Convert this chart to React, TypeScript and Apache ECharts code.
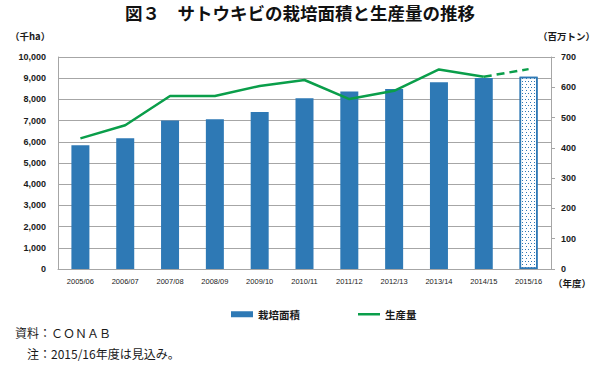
import React, { useEffect, useRef } from "react";
import * as echarts from "echarts";

const categories = ["2005/06", "2006/07", "2007/08", "2008/09", "2009/10", "2010/11", "2011/12", "2012/13", "2013/14", "2014/15", "2015/16"];
const areaValues = [5840, 6163, 7010, 7058, 7410, 8056, 8368, 8485, 8811, 9005, 9073];
const productionActual = [431.4, 474.8, 571.4, 571.4, 604.5, 624.0, 561.1, 588.5, 658.8, 634.8, null];
const productionForecast = [null, null, null, null, null, null, null, null, null, 634.8, 660.0];
const leftTicks = { min: 0, max: 10000, interval: 1000 };
const rightTicks = { min: 0, max: 700, interval: 100 };

const BLUE = "#2e79b5";
const GREEN = "#0a9e4a";
const GRAY = "#a6a6a6";
const TXT = "#1a1a1a";
const NUMFONT = "'Liberation Sans', Arial, sans-serif";
const JPFONT = "'Noto Sans CJK JP', sans-serif";

export default function App() {
  const ref = useRef<HTMLDivElement>(null);
  useEffect(() => {
    if (!ref.current) return;
    const chart = echarts.init(ref.current, null, { renderer: "svg" });
    const barData = areaValues.map((v, i) =>
      i === areaValues.length - 1
        ? {
            value: v,
            itemStyle: {
              color: "#ffffff",
              borderColor: BLUE,
              borderWidth: 1.5,
              decal: {
                symbol: "rect",
                symbolSize: 1,
                color: BLUE,
                backgroundColor: "#ffffff",
                dashArrayX: [[1, 2], [0, 1.5, 1, 0.5]],
                dashArrayY: [1, 2],
                rotation: 0,
              },
            },
          }
        : v
    );
    chart.setOption({
      animation: false,
      grid: { left: 58, right: 49, top: 57, bottom: 107, containLabel: false },
      legend: {
        data: [
          { name: "栽培面積", icon: "rect" },
          { name: "生産量", icon: "path://M0,0L22,0L22,2.5L0,2.5Z" },
        ],
        left: 226,
        top: 304,
        itemWidth: 22,
        itemHeight: 6,
        itemGap: 58,
        symbolKeepAspect: true,
        textStyle: { fontFamily: JPFONT, fontSize: 10.5, fontWeight: "bold", color: TXT },
      },
      xAxis: {
        type: "category",
        data: categories,
        axisLine: { lineStyle: { color: GRAY, width: 1 } },
        axisTick: { show: false },
        axisLabel: { interval: 0, fontSize: 7.5, fontFamily: NUMFONT, color: TXT, margin: 8 },
      },
      yAxis: [
        {
          type: "value",
          min: leftTicks.min,
          max: leftTicks.max,
          interval: leftTicks.interval,
          axisLine: { show: true, lineStyle: { color: GRAY } },
          axisTick: { show: false },
          splitLine: { lineStyle: { color: GRAY, width: 1 } },
          axisLabel: {
            fontSize: 9,
            fontWeight: "bold",
            fontFamily: NUMFONT,
            color: TXT,
            margin: 12,
            formatter: (v: number) => v.toLocaleString("en-US"),
          },
        },
        {
          type: "value",
          min: rightTicks.min,
          max: rightTicks.max,
          interval: rightTicks.interval,
          position: "right",
          axisLine: { show: true, lineStyle: { color: GRAY } },
          axisTick: { show: true, inside: false, length: 4, lineStyle: { color: GRAY } },
          splitLine: { show: false },
          axisLabel: { fontSize: 9, fontWeight: "bold", fontFamily: NUMFONT, color: TXT, margin: 10 },
        },
      ],
      series: [
        {
          name: "栽培面積",
          type: "bar",
          data: barData,
          barWidth: 18,
          itemStyle: { color: BLUE },
          yAxisIndex: 0,
        },
        {
          name: "生産量",
          type: "line",
          data: productionActual,
          yAxisIndex: 1,
          symbol: "none",
          lineStyle: { color: GREEN, width: 2.5 },
          itemStyle: { color: GREEN },
        },
        {
          name: "生産量見込",
          type: "line",
          data: productionForecast,
          yAxisIndex: 1,
          symbol: "none",
          lineStyle: { color: GREEN, width: 2.5, type: [8, 5] },
          itemStyle: { color: GREEN },
        },
      ],
      graphic: [
        {
          type: "text",
          left: "center",
          top: 4,
          style: { text: "図３　サトウキビの栽培面積と生産量の推移", font: `bold 17.5px ${JPFONT}`, fill: "#111" },
        },
        { type: "text", x: 10, y: 31, style: { text: "（千ha）", font: `bold 9.5px ${JPFONT}`, fill: TXT } },
        { type: "text", x: 538, y: 31, style: { text: "（百万トン）", font: `bold 9.5px ${JPFONT}`, fill: TXT } },
        { type: "text", x: 553, y: 278, style: { text: "（年度）", font: `bold 9.5px ${JPFONT}`, fill: TXT } },
        { type: "text", x: 15, y: 326, style: { text: "資料：ＣＯＮＡＢ", font: `12px ${JPFONT}`, fill: TXT } },
        { type: "text", x: 27, y: 347, style: { text: "注：2015/16年度は見込み。", font: `12px ${JPFONT}`, fill: TXT } },
      ],
    });
    return () => chart.dispose();
  }, []);
  return <div ref={ref} style={{ width: 600, height: 376, position: "absolute", left: 0, top: 0 }} />;
}
